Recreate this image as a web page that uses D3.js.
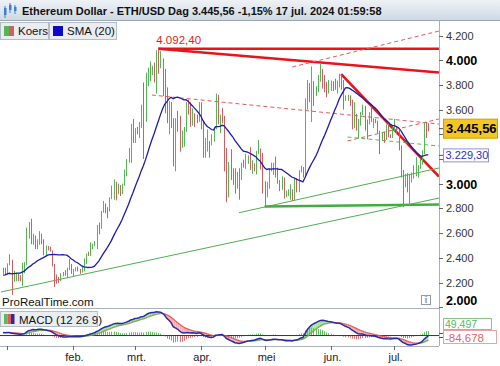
<!DOCTYPE html>
<html><head><meta charset="utf-8">
<script src="https://cdn.jsdelivr.net/npm/d3@7"></script>
<style>
body{margin:0;background:#fff;}
svg{display:block;font-family:"Liberation Sans",Arial,sans-serif;}
</style></head><body>
<svg id="c" width="500" height="366"></svg>
<script>
// ---------- DATA ----------
const startDate = "2023-12-30";
const open = [2300,2292,2282,2352,2356,2210,2268,2269,2240,2222,2330,2345,2585,2620,2525,2575,2472,2512,2586,2528,2467,2490,2470,2455,2345,2240,2235,2218,2265,2265,2260,2315,2345,2285,2305,2308,2298,2290,2300,2378,2430,2420,2485,2500,2505,2660,2640,2775,2825,2805,2785,2880,2945,3015,2965,2970,2925,2990,3110,3180,3245,3385,3340,3435,3420,3490,3630,3560,3825,3880,3900,3905,3880,4060,3985,4000,3880,3740,3520,3645,3515,3160,3515,3495,3330,3330,3450,3590,3585,3490,3560,3510,3505,3650,3500,3280,3310,3330,3320,3350,3450,3700,3500,3540,3505,3240,3010,3160,3100,3080,2985,3065,3055,3155,3150,3200,3220,3140,3155,3130,3250,3265,3215,3015,2970,2990,3105,3120,3140,3065,3005,2975,3040,2910,2915,2945,2950,2880,3040,2945,3095,3125,3070,3665,3790,3740,3780,3730,3750,3830,3890,3840,3770,3750,3765,3815,3780,3770,3810,3865,3810,3680,3685,3705,3665,3500,3560,3470,3480,3565,3620,3510,3485,3560,3515,3520,3495,3420,3350,3390,3370,3450,3380,3375,3435,3440,3420,3290,3060,2985,3070,2930,3020,3070,3100,3100,3135,3175,3250,3490,3486];
const high = [2320,2320,2355,2430,2385,2295,2280,2275,2260,2360,2365,2645,2690,2717,2595,2580,2550,2615,2595,2550,2500,2495,2490,2460,2350,2265,2245,2275,2285,2300,2320,2390,2350,2310,2325,2330,2310,2330,2395,2435,2450,2525,2515,2535,2665,2685,2780,2860,2840,2810,2890,2985,3035,3015,3000,2990,3000,3115,3200,3290,3485,3525,3450,3460,3500,3640,3820,3900,3940,3990,3955,3980,4080,4092,4075,4015,3930,3780,3670,3660,3530,3530,3590,3550,3430,3460,3660,3680,3660,3610,3570,3560,3660,3660,3505,3370,3440,3345,3400,3460,3730,3720,3560,3615,3550,3290,3175,3280,3125,3125,3095,3125,3170,3195,3240,3230,3295,3190,3165,3265,3355,3285,3250,3020,3015,3125,3170,3170,3220,3130,3030,3060,3050,2945,2955,2995,2955,3050,3045,3110,3145,3135,3690,3840,3815,3950,3830,3790,3880,3975,3930,3880,3825,3840,3835,3830,3850,3835,3890,3880,3840,3715,3720,3715,3680,3660,3565,3525,3580,3640,3630,3520,3580,3625,3530,3525,3510,3430,3420,3420,3480,3490,3400,3455,3525,3465,3435,3310,3110,3080,3085,3080,3090,3150,3215,3150,3200,3270,3495,3500,3490];
const low = [2270,2265,2265,2340,2100,2205,2210,2210,2210,2170,2275,2340,2555,2510,2505,2470,2470,2505,2510,2420,2415,2460,2450,2330,2165,2190,2195,2210,2250,2255,2235,2300,2270,2245,2290,2290,2270,2280,2290,2350,2415,2415,2470,2495,2470,2590,2635,2765,2760,2720,2775,2875,2870,2865,2915,2900,2915,2985,3060,3170,3170,3330,3330,3400,3370,3450,3200,3500,3790,3830,3880,3820,3730,3890,3935,3710,3570,3490,3400,3450,3140,3100,3420,3260,3290,3300,3420,3560,3460,3470,3460,3490,3500,3440,3210,3210,3260,3210,3310,3340,3440,3480,3410,3490,3100,2850,2890,3030,2990,2920,2960,2870,3030,3130,3120,3160,3110,3080,3100,3075,3240,3115,2920,2815,2890,2960,3100,3070,3050,3000,2940,2950,2880,2890,2900,2870,2860,2865,2930,2930,3090,3050,3050,3600,3660,3500,3630,3710,3740,3825,3770,3740,3700,3730,3750,3750,3760,3730,3780,3760,3600,3670,3670,3630,3440,3450,3430,3365,3470,3555,3430,3360,3480,3500,3450,3490,3410,3240,3345,3330,3355,3375,3370,3370,3420,3400,3270,3050,2810,2970,2930,2825,3010,3040,3060,3050,3120,3155,3240,3370,3425];
const close = [2292,2282,2352,2356,2210,2268,2269,2240,2222,2330,2345,2585,2620,2525,2575,2472,2512,2586,2528,2467,2490,2470,2455,2345,2240,2235,2218,2265,2265,2260,2315,2345,2285,2305,2308,2298,2290,2300,2378,2430,2420,2485,2500,2505,2660,2640,2775,2825,2805,2785,2880,2945,3015,2965,2970,2925,2990,3110,3180,3245,3385,3340,3435,3420,3490,3630,3560,3825,3880,3900,3905,3880,4060,3985,4000,3880,3740,3520,3645,3515,3160,3515,3495,3330,3330,3450,3590,3585,3490,3560,3510,3505,3650,3500,3280,3310,3330,3320,3350,3450,3700,3500,3540,3505,3240,3010,3160,3100,3080,2985,3065,3055,3155,3150,3200,3220,3140,3155,3130,3250,3265,3215,3015,2970,2990,3105,3120,3140,3065,3005,2975,3040,2910,2915,2945,2950,2880,3040,2945,3095,3125,3070,3665,3790,3740,3780,3730,3750,3830,3890,3840,3770,3750,3765,3815,3780,3770,3810,3865,3810,3680,3685,3705,3665,3500,3560,3470,3480,3565,3620,3510,3485,3560,3515,3520,3495,3420,3350,3390,3370,3450,3380,3375,3435,3440,3420,3290,3060,2985,3070,2930,3020,3070,3100,3100,3135,3175,3250,3490,3486,3445.56];
// closes of the 19 days before the window (needed for SMA(20) at the left edge)
const preCloses = [2225,2200,2260,2315,2220,2230,2195,2215,2175,2200,2240,2325,2310,2265,2270,2230,2380,2345,2300];
// EMA12, EMA26 and signal state on the day before preCloses
const emaSeed = [2262,2180,65];

const yTicks = [2000,2200,2400,2600,2800,3000,3200,3400,3600,3800,4000,4200];
const boldTicks = [2000,3000,4000];
const hiddenTickLabels = [3200,3400];   // covered by the value boxes in the picture
const monthTicks = ["2024-01-01","2024-02-01","2024-03-01","2024-04-01","2024-05-01","2024-06-01","2024-07-01"];
const monthLabels = ["","feb.","mrt.","apr.","mei","jun.","jul."];

const peakValue = 4092.40, peakDate = "2024-03-12";
const lastPrice = 3445.56, smaLast = 3229.30;
// trendlines drawn on the chart: [date, price] -> [date, price]
const trendFrom = [["2024-03-12",4092.4],["2024-03-12",4092.4],["2024-06-06",3888],["2024-03-09",3718],["2024-05-14",3945],["2024-06-09",3346],["2024-06-09",3378],["2023-12-29",2123],["2024-04-19",2765],["2024-05-01",2815]];
const trendTo   = [["2024-07-22",4092.4],["2024-07-22",3900],["2024-07-22",3057],["2024-07-22",3483],["2024-07-22",4236],["2024-07-22",3524],["2024-07-22",3305],["2024-07-22",2884],["2024-07-22",3127],["2024-07-22",2832]];
const trendKind = ["redThick","redThick","redThick","redDash","redDash","redDash","greenDash","green","green","greenThick"];

const macdLabelValues = ["49,497","-84,678"];
const titleText = "Ethereum Dollar - ETH/USD Dag";
const titleRest = "-1,15% 17 jul. 2024 01:59:58";

// ---------- STYLES / LAYOUT ----------
const styles = {
  redThick:{stroke:"#e8141a",w:2.6,dash:null},
  redDash:{stroke:"#e8585c",w:1,dash:"4,3"},
  greenDash:{stroke:"#5cb85c",w:1,dash:"4,3"},
  green:{stroke:"#4fae4f",w:1,dash:null},
  greenThick:{stroke:"#3fae3f",w:2.6,dash:null}
};
const UP="#55b655", DOWN="#d06060";
const P = {l:0, r:439, t:21, b:308};
const M = {t:309, b:346};

const locale = d3.formatLocale({decimal:",", thousands:".", grouping:[3], currency:["",""]});
const fmtInt = locale.format(",d"), fmt2 = locale.format(",.2f");
const parse = d3.utcParse("%Y-%m-%d");

const svg = d3.select("#c");
const n = close.length;
const dates = close.map((_,i)=>d3.utcDay.offset(parse(startDate), i));

const x = d3.scaleUtc().domain([parse("2024-01-01"), parse("2024-07-01")]).range([7.3, 394.3]);
const y = d3.scaleLinear().domain([2000,4200]).range([307.2, 35.5]);

// indicators derived from the Koers closes (as the charting software does)
const allC = preCloses.concat(close);
function ema(vals, period, seed){ const k = 2/(period+1); let e = seed; return vals.map(v => (e = v*k + e*(1-k))); }
const e12 = ema(allC, 12, emaSeed[0]), e26 = ema(allC, 26, emaSeed[1]);
const macdAll = e12.map((v,i)=>v - e26[i]);
const sigAll = ema(macdAll, 9, emaSeed[2]);
const off = preCloses.length;
const macd = macdAll.slice(off), signal = sigAll.slice(off);
const sma = close.map((_,i)=> d3.mean(allC.slice(i+off-19, i+off+1)));

const ym = d3.scaleLinear().domain([-150, 356]).range([M.b, M.t]);

// ---------- DRAW ----------
const defs = svg.append("defs");
defs.append("clipPath").attr("id","cp").append("rect").attr("x",P.l).attr("y",P.t).attr("width",P.r-P.l).attr("height",P.b-P.t);
defs.append("clipPath").attr("id","cpm").append("rect").attr("x",P.l).attr("y",M.t).attr("width",P.r-P.l).attr("height",M.b-M.t);
const gr = defs.append("linearGradient").attr("id","tg").attr("x1",0).attr("y1",0).attr("x2",0).attr("y2",1);
gr.append("stop").attr("offset",0).attr("stop-color","#eef2f7");
gr.append("stop").attr("offset",1).attr("stop-color","#cfd9e3");

svg.append("rect").attr("width",500).attr("height",366).attr("fill","#fff");

const main = svg.append("g").attr("clip-path","url(#cp)");

// trendlines (under bars)
const tl = main.append("g");
trendFrom.forEach((f,i)=>{
  const s = styles[trendKind[i]], t = trendTo[i];
  tl.append("line")
    .attr("x1",x(parse(f[0]))).attr("y1",y(f[1]))
    .attr("x2",x(parse(t[0]))).attr("y2",y(t[1]))
    .attr("stroke",s.stroke).attr("stroke-width",s.w)
    .attr("stroke-dasharray",s.dash);
});

// OHLC bars
const bars = main.append("g");
close.forEach((c,i)=>{
  const xi = Math.round(x(dates[i]))+0.5;
  const col = c >= open[i] ? UP : DOWN;
  bars.append("line").attr("x1",xi).attr("x2",xi).attr("y1",y(high[i])).attr("y2",y(low[i])).attr("stroke",col).attr("stroke-width",1);
});

// SMA line
main.append("path").datum(sma).attr("fill","none").attr("stroke","#1c1ca8").attr("stroke-width",1.3)
  .attr("d", d3.line().x((d,i)=>x(dates[i])).y(d=>y(d)));

// peak label
svg.append("text").attr("x",x(parse(peakDate))-2).attr("y",y(peakValue)-4.5)
  .attr("font-size",11.5).attr("fill","#e02424").text(fmt2(peakValue));

// ---------- MACD panel ----------
const mg = svg.append("g").attr("clip-path","url(#cpm)");
for(let i=0;i<n-1;i++){
  const up = (macd[i]+macd[i+1]) >= (signal[i]+signal[i+1]);
  const x0 = x(dates[i]), x1 = x(dates[i+1]);
  mg.append("path").attr("d",`M${x0},${ym(macd[i])}L${x1},${ym(macd[i+1])}L${x1},${ym(signal[i+1])}L${x0},${ym(signal[i])}Z`)
    .attr("fill", up ? "#a6e3a0" : "#f4b0b0").attr("stroke","none");
}
macd.forEach((m,i)=>{
  const h = m - signal[i];
  const xi = Math.round(x(dates[i]))+0.5;
  mg.append("line").attr("x1",xi).attr("x2",xi).attr("y1",ym(0)).attr("y2",ym(h))
    .attr("stroke", h>=0 ? "#62c062" : "#e07474").attr("stroke-width",1);
});
mg.append("line").attr("x1",P.l).attr("x2",P.r).attr("y1",ym(0)+0.5).attr("y2",ym(0)+0.5).attr("stroke","#2a2a9a").attr("stroke-width",1);
for(let i=0;i<n-1;i++){
  const up = (macd[i]+macd[i+1]) >= (signal[i]+signal[i+1]);
  mg.append("line").attr("x1",x(dates[i])).attr("y1",ym(signal[i])).attr("x2",x(dates[i+1])).attr("y2",ym(signal[i+1]))
    .attr("stroke", up ? "#7aa84a" : "#e05a5a").attr("stroke-width",1.3);
}
mg.append("path").datum(macd).attr("fill","none").attr("stroke","#2a2aa8").attr("stroke-width",1.5)
  .attr("d", d3.line().x((d,i)=>x(dates[i])).y(d=>ym(d)));

// ---------- frames & axes ----------
const frame = "#a9b1ba";
svg.append("line").attr("x1",P.r+0.5).attr("x2",P.r+0.5).attr("y1",P.t).attr("y2",M.b).attr("stroke",frame);
svg.append("line").attr("x1",0).attr("x2",P.r).attr("y1",P.b+0.5).attr("y2",P.b+0.5).attr("stroke",frame);
svg.append("line").attr("x1",0).attr("x2",P.r).attr("y1",M.b+0.5).attr("y2",M.b+0.5).attr("stroke",frame);

const ya = svg.append("g");
yTicks.forEach(v=>{
  const yy = Math.round(y(v))+0.5;
  ya.append("line").attr("x1",P.r).attr("x2",P.r+4).attr("y1",yy).attr("y2",yy).attr("stroke","#666");
  if(hiddenTickLabels.includes(v)) return;
  const b = boldTicks.includes(v);
  ya.append("text").attr("x",P.r+7).attr("y",Math.min(yy,301)).attr("dy","0.35em")
    .attr("font-size", b?12.5:11).attr("font-weight", b?"bold":"normal").attr("fill", b?"#000":"#333").text(fmtInt(v));
});

monthTicks.forEach((m,i)=>{
  const xx = Math.round(x(parse(m)))+0.5;
  svg.append("line").attr("x1",xx).attr("x2",xx).attr("y1",M.b).attr("y2",M.b+4).attr("stroke","#666");
  if(monthLabels[i]) svg.append("text").attr("x",xx+1).attr("y",361).attr("text-anchor","middle").attr("font-size",11).attr("fill","#222").text(monthLabels[i]);
});

// last price label (gold)
const lastY = y(lastPrice);
svg.append("line").attr("x1",P.r).attr("x2",P.r+4).attr("y1",lastY).attr("y2",lastY).attr("stroke","#444");
svg.append("rect").attr("x",443.5).attr("y",lastY-9.5).attr("width",54).attr("height",19).attr("fill","#f3c623").attr("stroke","#c9a000");
svg.append("text").attr("x",446).attr("y",lastY).attr("dy","0.36em").attr("font-size",13).attr("font-weight","bold").attr("fill","#000").text(fmt2(lastPrice));
// SMA label
const smaY = y(smaLast);
svg.append("line").attr("x1",P.r).attr("x2",P.r+4).attr("y1",smaY).attr("y2",smaY).attr("stroke","#4040c0");
svg.append("rect").attr("x",443.5).attr("y",smaY-6.5).attr("width",45).attr("height",13).attr("fill","#fff").attr("stroke","#9090e0");
svg.append("text").attr("x",445.5).attr("y",smaY).attr("dy","0.36em").attr("font-size",11).attr("fill","#2d2dc0").text(fmt2(smaLast));

// MACD value labels
svg.append("rect").attr("x",443.5).attr("y",318.5).attr("width",48).attr("height",11).attr("fill","#fff").attr("stroke","#86c886");
svg.append("text").attr("x",445).attr("y",324).attr("dy","0.36em").attr("font-size",10.5).attr("fill","#5cb85c").text(macdLabelValues[0]);
svg.append("rect").attr("x",443.5).attr("y",330.5).attr("width",53).attr("height",13).attr("fill","#fff").attr("stroke","#e6a4a4");
svg.append("text").attr("x",445).attr("y",337.5).attr("dy","0.36em").attr("font-size",11.5).attr("fill","#e06666").text(macdLabelValues[1]);
[333.5,337.5].forEach(v=>svg.append("line").attr("x1",P.r).attr("x2",P.r+4).attr("y1",v).attr("y2",v).attr("stroke","#555"));

// info icon
svg.append("rect").attr("x",421.5).attr("y",295.5).attr("width",9).attr("height",9).attr("fill","#fff").attr("stroke","#999");
svg.append("text").attr("x",426).attr("y",303).attr("text-anchor","middle").attr("font-size",9).attr("font-weight","bold").attr("fill","#888").text("i");

svg.append("text").attr("x",2).attr("y",306).attr("font-size",11.5).attr("fill","#111").text("ProRealTime.com");

// MACD legend
svg.append("rect").attr("x",0.5).attr("y",311.5).attr("width",97).attr("height",15).attr("fill","#e9edf1").attr("stroke","#b4bcc4");
[["#5cb85c",4],["#e05a5a",7.5],["#2a2aa8",11]].forEach(d=>svg.append("rect").attr("x",d[1]).attr("y",314).attr("width",3.5).attr("height",10).attr("fill",d[0]));
svg.append("text").attr("x",19).attr("y",323.5).attr("font-size",11.5).attr("fill","#111").text("MACD (12 26 9)");

// Title bar
svg.append("rect").attr("x",0).attr("y",0).attr("width",500).attr("height",20).attr("fill","url(#tg)");
svg.append("line").attr("x1",0).attr("x2",500).attr("y1",20.5).attr("y2",20.5).attr("stroke","#9aa8b6");
[[4,6,12,"#3d7fd0"],[9,3,10,"#3d7fd0"],[14,5,9,"#3d7fd0"]].forEach(c=>{
  svg.append("line").attr("x1",c[0]+1).attr("x2",c[0]+1).attr("y1",c[1]).attr("y2",c[1]+c[2]).attr("stroke",c[3]);
  svg.append("rect").attr("x",c[0]).attr("y",c[1]+2).attr("width",2.5).attr("height",c[2]-5).attr("fill",c[3]);
});
svg.append("text").attr("x",22).attr("y",15).attr("font-size",11).attr("font-weight","bold").attr("fill","#111")
  .text(`${titleText} ${fmt2(lastPrice)} ${titleRest}`);

// Legend boxes
svg.append("rect").attr("x",0.5).attr("y",22.5).attr("width",48).attr("height",17).attr("fill","#e9edf1").attr("stroke","#b4bcc4");
svg.append("rect").attr("x",4).attr("y",26).attr("width",5).attr("height",10).attr("fill",UP);
svg.append("rect").attr("x",9).attr("y",26).attr("width",5).attr("height",10).attr("fill",DOWN);
svg.append("text").attr("x",18).attr("y",35).attr("font-size",11.5).attr("fill","#111").text("Koers");
svg.append("rect").attr("x",49.5).attr("y",22.5).attr("width",67).attr("height",17).attr("fill","#e9edf1").attr("stroke","#b4bcc4");
svg.append("rect").attr("x",53).attr("y",26).attr("width",10).attr("height",10).attr("fill","#0a0ac8");
svg.append("text").attr("x",67).attr("y",35).attr("font-size",11.5).attr("fill","#111").text("SMA (20)");
</script>
</body></html>
